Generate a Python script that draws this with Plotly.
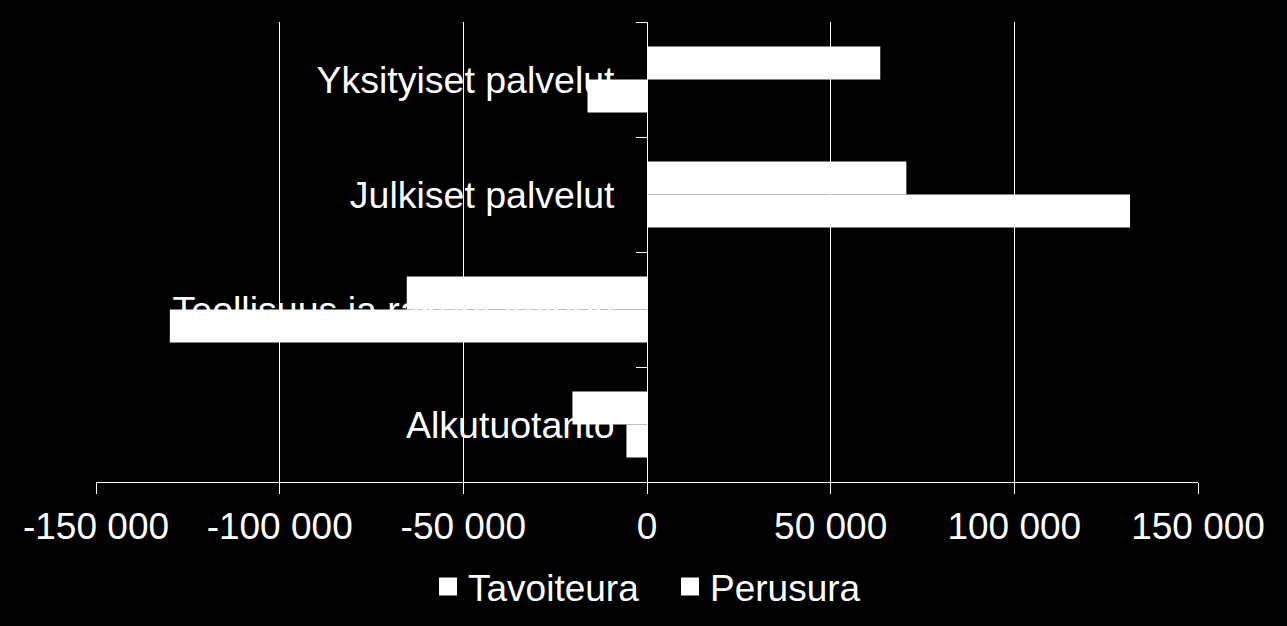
import plotly.graph_objects as go

categories = ["Alkutuotanto", "Teollisuus ja rakentaminen", "Julkiset palvelut", "Yksityiset palvelut"]
tavoiteura = [-5600, -129900, 131500, -16200]
perusura = [-20300, -65400, 70600, 63500]
series_names = ["Tavoiteura", "Perusura"]
x_tickvals = [-150000, -100000, -50000, 0, 50000, 100000, 150000]
x_ticktext = ["-150 000", "-100 000", "-50 000", "0", "50 000", "100 000", "150 000"]

FONT = "Arial, Liberation Sans, sans-serif"

fig = go.Figure()
for name, vals in zip(series_names, [tavoiteura, perusura]):
    fig.add_trace(go.Bar(
        y=categories, x=vals, orientation="h", name=name,
        marker=dict(color="#ffffff", line=dict(width=0)),
        showlegend=False,
    ))
    # legend proxy with a larger square symbol
    fig.add_trace(go.Scatter(
        x=[None], y=[None], mode="markers", name=name,
        marker=dict(symbol="square", size=16, color="#ffffff",
                    line=dict(color="#ffffff", width=2)),
        showlegend=True,
    ))

fig.update_layout(
    width=1287, height=626,
    paper_bgcolor="#000000", plot_bgcolor="#000000",
    margin=dict(l=96, r=89, t=22, b=144, autoexpand=False),
    barmode="group", bargap=0.426, bargroupgap=0,
    font=dict(family=FONT, size=36, color="#ffffff"),
    showlegend=True,
    legend=dict(orientation="h", x=0.3013, xanchor="left", y=-0.228, yanchor="middle",
                font=dict(family=FONT, size=37, color="#ffffff"),
                bgcolor="rgba(0,0,0,0)", itemwidth=30, entrywidth=197,
                borderwidth=0),
    xaxis=dict(
        range=[-150000, 150000], tickvals=x_tickvals, ticktext=x_ticktext,
        showgrid=True, gridcolor="#ffffff", gridwidth=1,
        zeroline=False, showline=True, linecolor="#ffffff", linewidth=1,
        ticks="outside", ticklen=11, tickcolor="#ffffff", tickwidth=1,
        tickfont=dict(family=FONT, size=37, color="#ffffff"),
        ticklabelstandoff=1, automargin=False,
        fixedrange=True,
    ),
    yaxis=dict(
        type="category", categoryorder="array", categoryarray=categories,
        anchor="free", position=0.5, side="left",
        showgrid=False, zeroline=False, showline=True, linecolor="#ffffff", linewidth=1,
        ticks="outside", tickson="boundaries", ticklen=11, tickcolor="#ffffff", tickwidth=1,
        tickfont=dict(family=FONT, size=37.5, color="#ffffff"),
        ticklabelstandoff=25, automargin=False,
        layer="below traces",
        fixedrange=True,
    ),
)

fig.write_html(
    "out.html",
    config={"displayModeBar": False},
    post_script="document.body.style.margin='0';document.body.style.padding='0';"
                "document.body.style.background='#000';"
                "document.documentElement.style.background='#000';",
)
